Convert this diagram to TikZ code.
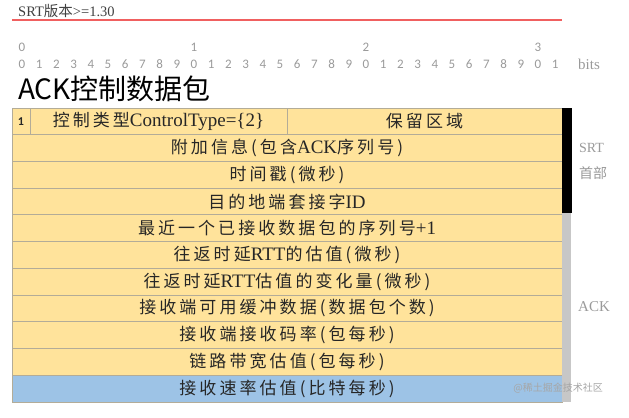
\documentclass[tikz,border=0pt]{standalone}
\usepackage{fontspec}
\setmainfont{Liberation Serif}
\newfontfamily\cjk{Noto Sans CJK SC}
\newfontfamily\cjkcell[LetterSpace=18]{Noto Sans CJK SC}
\newfontfamily\carl{Carlito}
\newcommand\C[1]{{\cjkcell\fontsize{17bp}{19bp}\selectfont #1}}
\definecolor{cellyellow}{HTML}{FFE39B}
\definecolor{cellblue}{HTML}{9DC3E6}
\definecolor{sepline}{HTML}{B3AC98}
\definecolor{lightgraytext}{HTML}{9A9A9A}
\definecolor{pinkrule}{RGB}{240,96,96}
\tikzset{
  cell/.style={draw=sepline, line width=0.9bp, fill=cellyellow, inner sep=0pt, outer sep=0pt,
    minimum height=26.727bp, font=\fontsize{19bp}{21bp}\selectfont, text=black!85},
  bitnum/.style={font=\carl\fontsize{13bp}{14bp}\selectfont, text=lightgraytext, inner sep=0pt},
  sidelabel/.style={font=\fontsize{14bp}{16bp}\selectfont, text=lightgraytext, inner sep=0pt},
}
\begin{document}
\begin{tikzpicture}[x=1bp, y=-1bp]
\useasboundingbox (0,0) rectangle (629,417);
% header
\node[anchor=west, inner sep=0pt, font=\fontsize{14.5bp}{16bp}\selectfont, text=black!75] (ver) at (18,11) {SRT{\cjk 版本}>=1.30};
\coordinate (rl) at (12,20);
\coordinate (rr) at (562,20);
\draw[color=pinkrule, line width=2bp] (rl) -- (rr);
% bit numbers
\foreach \i in {0,...,31}{
  \pgfmathtruncatemacro{\d}{mod(\i,10)}
  \node[bitnum] (b\i) at ({22+17.2*\i},64) {\d};
}
\foreach \t in {0,1,2,3}{
  \node[bitnum] (t\t) at ({22+172*\t},47) {\t};
}
\node[sidelabel, anchor=west, font=\fontsize{15bp}{16bp}\selectfont] (bits) at (578,64) {bits};
% title
\node[anchor=west, inner sep=0pt, font=\cjk\fontsize{28bp}{30bp}\selectfont] (title) at (18,89) {ACK控制数据包};
% row 0
\node[cell, minimum width=18bp] (c1) at (21,121.36) {\carl\bfseries\fontsize{12bp}{13bp}\selectfont 1};
\node[cell, minimum width=257bp] (ctype) at (158.5,121.36) {\C{控制类型}ControlType=\{2\}};
\node[cell, minimum width=275bp] (resv) at (424.5,121.36) {\C{保留区域}};
% other rows
\node[cell, minimum width=550bp] (r1) at (287,148.09) {\C{附加信息(包含}ACK\C{序列号)}};
\node[cell, minimum width=550bp] (r2) at (287,174.82) {\C{时间戳(微秒)}};
\node[cell, minimum width=550bp] (r3) at (287,201.55) {\C{目的地端套接字}ID};
\node[cell, minimum width=550bp] (r4) at (287,228.27) {\C{最近一个已接收数据包的序列号}+1};
\node[cell, minimum width=550bp] (r5) at (287,255.00) {\C{往返时延}RTT\C{的估值(微秒)}};
\node[cell, minimum width=550bp] (r6) at (287,281.73) {\C{往返时延}RTT\C{估值的变化量(微秒)}};
\node[cell, minimum width=550bp] (r7) at (287,308.45) {\C{接收端可用缓冲数据(数据包个数)}};
\node[cell, minimum width=550bp] (r8) at (287,335.18) {\C{接收端接收码率(包每秒)}};
\node[cell, minimum width=550bp] (r9) at (287,361.91) {\C{链路带宽估值(包每秒)}};
\node[cell, minimum width=550bp, fill=cellblue] (r10) at (287,388.64) {\C{接收速率估值(比特每秒)}};
% side bars
\node[fill=black, inner sep=0pt, outer sep=0pt, minimum width=10bp, minimum height=105bp] (srtbar) at (567,160.5) {};
\node[fill=black!22, inner sep=0pt, outer sep=0pt, minimum width=9bp, minimum height=189bp] (ackbar) at (566.5,307.5) {};
% side labels
\node[sidelabel, anchor=west] (srt) at (579,148) {SRT};
\node[sidelabel, anchor=west, font=\cjk\fontsize{14bp}{16bp}\selectfont] (hdr) at (579,173) {首部};
\node[sidelabel, anchor=west, font=\fontsize{15bp}{16bp}\selectfont] (ack) at (578,307) {ACK};
% watermark
\node[anchor=east, inner sep=0pt, font=\cjk\fontsize{10bp}{12bp}\selectfont, text=black!35] (wm) at (603,388) {@稀土掘金技术社区};
\end{tikzpicture}
\end{document}
